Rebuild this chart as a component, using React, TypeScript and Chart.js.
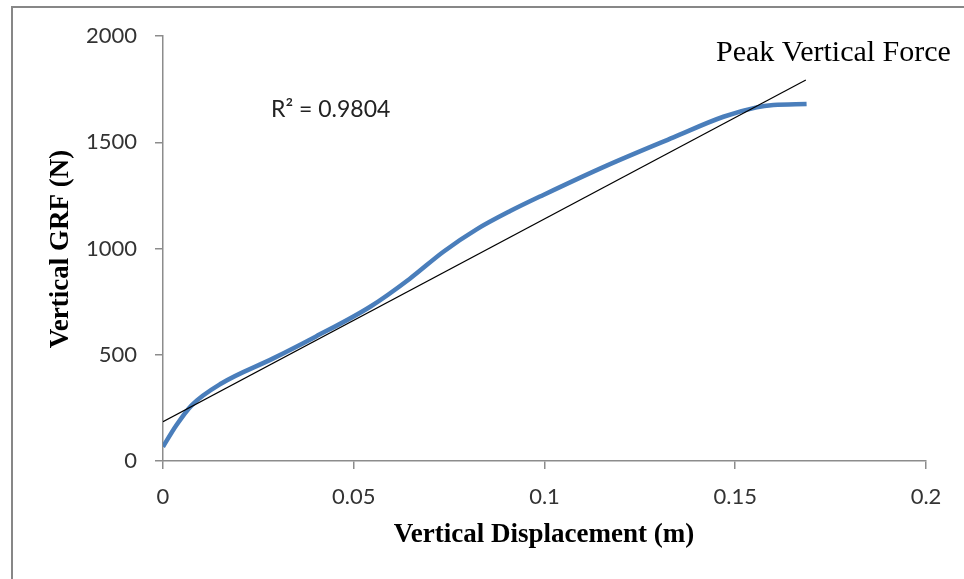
import React, { useEffect, useRef } from "react";
import { Chart, registerables } from "chart.js";

Chart.register(...registerables);

const displacement = [0, 0.0035, 0.0075, 0.0154, 0.0289, 0.04, 0.0543, 0.0647, 0.0735, 0.0822, 0.091, 0.0997, 0.1163, 0.1338, 0.1469, 0.1556, 0.16, 0.1687];
const grf = [67, 168, 262, 366, 483, 585, 726, 858, 985, 1090, 1176, 1252, 1390, 1523, 1620, 1664, 1675, 1680];
const trendX = [0, 0.1685];
const trendY = [185, 1793];
const xTicks = [0, 0.05, 0.1, 0.15, 0.2];
const yTicks = [0, 500, 1000, 1500, 2000];
const rSquaredLabel = "R² = 0.9804";
const annotationLabel = "Peak Vertical Force";
const xTitle = "Vertical Displacement (m)";
const yTitle = "Vertical GRF (N)";

export default function App() {
  const ref = useRef<HTMLCanvasElement | null>(null);
  useEffect(() => {
    document.body.style.margin = "0";
    const canvas = ref.current;
    if (!canvas) return;
    const overlay = {
      id: "overlay",
      afterDraw(chart: any) {
        const ctx = chart.ctx;
        ctx.save();
        ctx.strokeStyle = "#878787";
        ctx.lineWidth = 2;
        ctx.strokeRect(12, 7, 1200, 1200);
        ctx.textBaseline = "middle";
        ctx.font = "23px Lato";
        ctx.textAlign = "left";
        ctx.fillStyle = "#222";
        ctx.fillText(rSquaredLabel, 271, 110);
        ctx.fillStyle = "#000";
        ctx.font = "30px 'Liberation Serif'";
        ctx.fillText(annotationLabel, 716, 53);
        ctx.font = "bold 27px 'Liberation Serif'";
        ctx.textAlign = "center";
        ctx.fillText(xTitle, 544, 535);
        ctx.translate(61, 249);
        ctx.rotate(-Math.PI / 2);
        ctx.fillText(yTitle, 0, 0);
        ctx.restore();
      },
    };
    const chart = new Chart(canvas, {
      type: "scatter",
      data: {
        datasets: [
          {
            data: displacement.map((x, i) => ({ x, y: grf[i] })),
            showLine: true,
            borderColor: "#4a7ebb",
            borderWidth: 4.5,
            pointRadius: 0,
            cubicInterpolationMode: "monotone",
            order: 2,
          },
          {
            data: trendX.map((x, i) => ({ x, y: trendY[i] })),
            showLine: true,
            borderColor: "#000",
            borderWidth: 1.2,
            pointRadius: 0,
            order: 1,
          },
        ],
      },
      options: {
        animation: false,
        responsive: false,
        events: [],
        layout: { padding: { left: 0, right: 38, top: 36, bottom: 0 } },
        plugins: { legend: { display: false }, tooltip: { enabled: false } },
        scales: {
          x: {
            type: "linear",
            min: 0,
            max: 0.2,
            afterBuildTicks: (s: any) => { s.ticks = xTicks.map((v) => ({ value: v })); },
            afterFit: (s: any) => { s.height = 118; },
            ticks: {
              font: { family: "Lato", size: 22 },
              color: "#333",
              padding: 15,
              maxRotation: 0,
              callback: (v: any) => String(Number(Number(v).toFixed(2))),
            },
            grid: { drawOnChartArea: false, drawTicks: true, tickLength: 8, color: "#8c8c8c", lineWidth: 1.5 },
            border: { color: "#8c8c8c", width: 1.5 },
          },
          y: {
            min: 0,
            max: 2000,
            afterBuildTicks: (s: any) => { s.ticks = yTicks.map((v) => ({ value: v })); },
            afterFit: (s: any) => { s.width = 163; },
            ticks: {
              font: { family: "Lato", size: 22 },
              color: "#333",
              padding: 18,
              callback: (v: any) => String(v),
            },
            grid: { drawOnChartArea: false, drawTicks: true, tickLength: 8, color: "#8c8c8c", lineWidth: 1.5 },
            border: { color: "#8c8c8c", width: 1.5 },
          },
        },
      },
      plugins: [overlay],
    } as any);
    return () => chart.destroy();
  }, []);
  return (
    <div style={{ width: 964, height: 579, background: "#fff" }}>
      <canvas ref={ref} width={964} height={579} style={{ display: "block" }} />
    </div>
  );
}
